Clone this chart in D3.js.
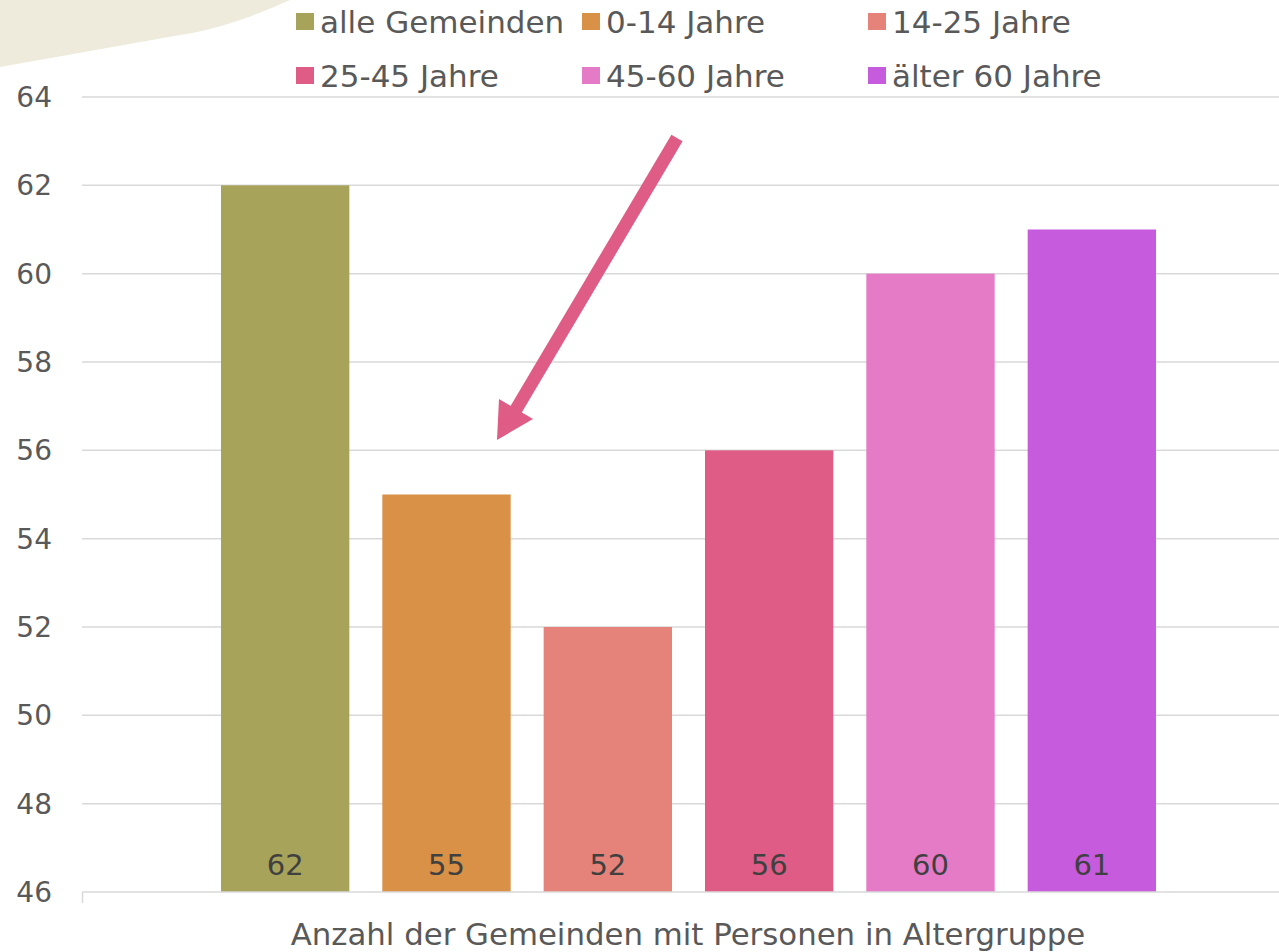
<!DOCTYPE html>
<html>
<head>
<meta charset="utf-8">
<script src="https://cdn.jsdelivr.net/npm/d3@7"></script>
<style>
  body { margin: 0; background: #fff; }
  svg { display: block; font-family: "DejaVu Sans", sans-serif; }
</style>
</head>
<body>
<svg id="chart" width="1279" height="952"></svg>
<script>
// chart data
const series = ["alle Gemeinden", "0-14 Jahre", "14-25 Jahre", "25-45 Jahre", "45-60 Jahre", "älter 60 Jahre"];
const values = [62, 55, 52, 56, 60, 61];
const colors = ["#a8a35a", "#d99047", "#e5837a", "#de5c85", "#e57ac6", "#c75bdd"];
const yTicks = [46, 48, 50, 52, 54, 56, 58, 60, 62, 64];
const xTitle = "Anzahl der Gemeinden mit Personen in Altergruppe";

const svg = d3.select("#chart");

// beige decoration top left
svg.append("path")
    .attr("d", "M0,0 L290,0 C250,18 215,30 180,35 L0,67 Z")
    .attr("fill", "#eeebdd");

const y = d3.scaleLinear().domain([46, 64]).range([892, 97]);
const x = d3.scaleBand().domain(series).range([204.5, 1172.5])
    .paddingInner(0.2045).paddingOuter(0.1022);

// gridlines
svg.append("g")
    .selectAll("line")
    .data(yTicks.slice(1))
    .enter().append("line")
    .attr("x1", 82).attr("x2", 1279)
    .attr("y1", d => y(d)).attr("y2", d => y(d))
    .attr("stroke", "#d9d9d9")
    .attr("stroke-width", 1.5);

// y tick labels
svg.append("g")
    .selectAll("text")
    .data(yTicks)
    .enter().append("text")
    .attr("x", 52)
    .attr("y", d => y(d) + 10)
    .attr("text-anchor", "end")
    .attr("font-size", 28)
    .attr("fill", "#595959")
    .text(d => d);

// bars
svg.append("g")
    .selectAll("rect")
    .data(values)
    .enter().append("rect")
    .attr("x", (d, i) => x(series[i]))
    .attr("width", x.bandwidth())
    .attr("y", d => y(d))
    .attr("height", d => y(46) - y(d))
    .attr("fill", (d, i) => colors[i]);

// value labels
svg.append("g")
    .selectAll("text")
    .data(values)
    .enter().append("text")
    .attr("x", (d, i) => x(series[i]) + x.bandwidth() / 2)
    .attr("y", y(46) - 17)
    .attr("text-anchor", "middle")
    .attr("font-size", 29)
    .attr("fill", "#404040")
    .text(d => d);

// x axis line
const xAxis = svg.append("g");
xAxis.append("line")
    .attr("x1", 82).attr("x2", 1279)
    .attr("y1", y(46)).attr("y2", y(46))
    .attr("stroke", "#d9d9d9").attr("stroke-width", 1.5);
xAxis.append("line")
    .attr("x1", 82.5).attr("x2", 82.5)
    .attr("y1", y(46)).attr("y2", y(46) + 11)
    .attr("stroke", "#d9d9d9").attr("stroke-width", 1.5);

svg.append("text")
    .attr("x", 688)
    .attr("y", 945)
    .attr("text-anchor", "middle")
    .attr("font-size", 30.8)
    .attr("fill", "#595959")
    .text(xTitle);

// legend
const legendPos = [[296, 13], [582, 13], [868, 13], [296, 67], [582, 67], [868, 67]];
const legend = svg.append("g")
    .selectAll("g")
    .data(series)
    .enter().append("g")
    .attr("transform", (d, i) => `translate(${legendPos[i][0]},${legendPos[i][1]})`);
legend.append("rect")
    .attr("width", 18).attr("height", 17)
    .attr("fill", (d, i) => colors[i]);
legend.append("text")
    .attr("x", 24)
    .attr("y", 20)
    .attr("font-size", 31)
    .attr("fill", "#595959")
    .text(d => d);

// arrow annotation pointing at the 0-14 bar
const arrowColor = "#de5c85";
const start = [677, 138], tip = [497, 440], wingA = [499, 399], wingB = [533, 419];
const base = [(wingA[0] + wingB[0]) / 2, (wingA[1] + wingB[1]) / 2];
svg.append("line")
    .attr("x1", start[0]).attr("y1", start[1])
    .attr("x2", base[0] - 5).attr("y2", base[1] + 9)
    .attr("stroke", arrowColor)
    .attr("stroke-width", 13);
svg.append("path")
    .attr("d", d3.line()([tip, wingA, wingB]) + "Z")
    .attr("fill", arrowColor);
</script>
</body>
</html>
